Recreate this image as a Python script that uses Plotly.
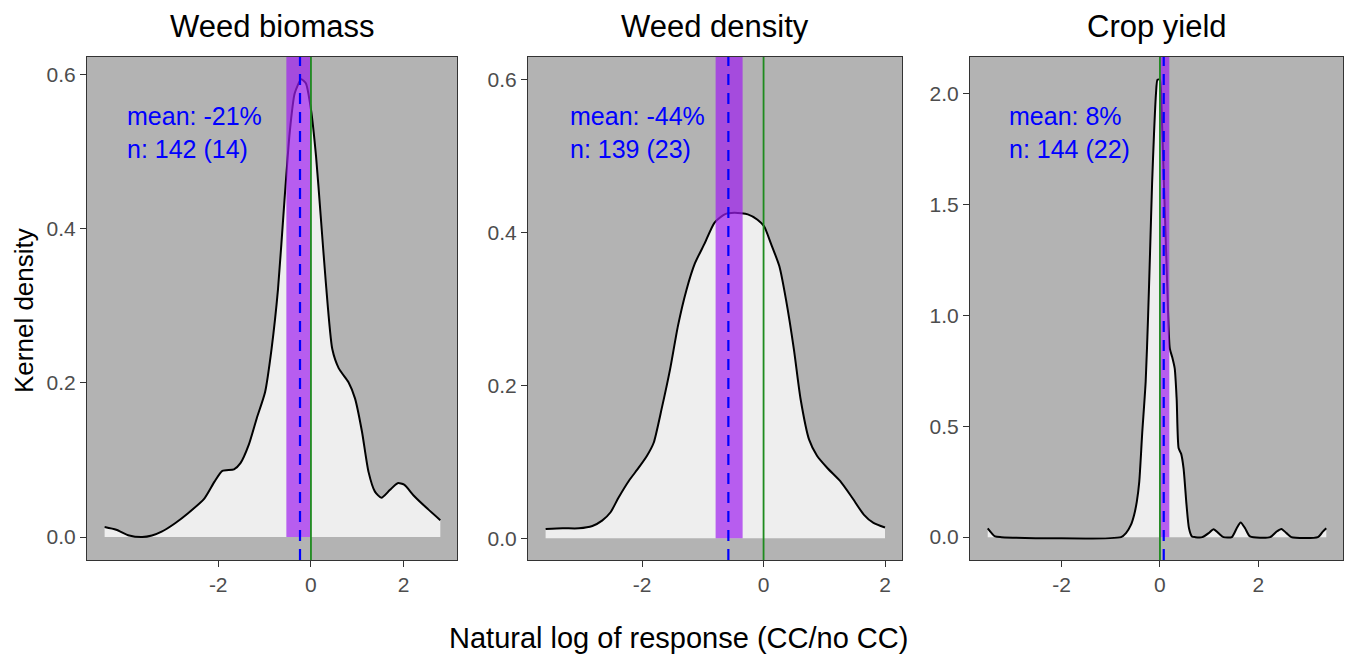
import plotly.graph_objects as go

# ---------------- data ----------------
panel_titles = ["Weed biomass", "Weed density", "Crop yield"]

biomass_x = [-4.45, -4.2, -3.92, -3.64, -3.43, -3.22, -2.93, -2.65, -2.3, -2.08, -1.91, -1.66, -1.52,
             -1.34, -1.17, -0.99, -0.85, -0.71, -0.57, -0.46, -0.35, -0.21, -0.11, 0.0, 0.11, 0.21,
             0.32, 0.46, 0.6, 0.81, 0.95, 1.1, 1.24, 1.38, 1.52, 1.7, 1.87, 2.01, 2.23, 2.51, 2.79]
biomass_y = [0.013, 0.0095, 0.002, 0.0, 0.002, 0.007, 0.018, 0.031, 0.05, 0.072, 0.086, 0.088, 0.096,
             0.12, 0.154, 0.188, 0.244, 0.322, 0.438, 0.524, 0.576, 0.594, 0.589, 0.555, 0.494, 0.417,
             0.331, 0.244, 0.219, 0.201, 0.18, 0.137, 0.085, 0.059, 0.051, 0.061, 0.07, 0.068, 0.053,
             0.037, 0.022]

density_x = [-3.59, -3.31, -3.04, -2.82, -2.66, -2.52, -2.39, -2.22, -2.06, -1.92, -1.81, -1.68, -1.54,
             -1.41, -1.27, -1.13, -0.97, -0.81, -0.64, -0.48, -0.26, -0.1, 0.01, 0.12, 0.26, 0.37, 0.5,
             0.61, 0.75, 0.88, 1.05, 1.26, 1.46, 1.65, 1.81, 2.0]
density_y = [0.012, 0.013, 0.013, 0.016, 0.023, 0.034, 0.053, 0.075, 0.092, 0.108, 0.125, 0.169, 0.221,
             0.278, 0.325, 0.36, 0.386, 0.413, 0.424, 0.426, 0.424, 0.417, 0.408, 0.386, 0.356, 0.312,
             0.247, 0.182, 0.129, 0.108, 0.092, 0.075, 0.053, 0.031, 0.02, 0.014]

yield_x = [-3.5, -3.35, -3.22, -0.79, -0.69, -0.59, -0.525, -0.47, -0.42, -0.36, -0.29, -0.24, -0.2,
           -0.16, -0.12, -0.08, -0.05, 0.0, 0.03, 0.08, 0.15, 0.2, 0.25, 0.3, 0.34, 0.38, 0.43, 0.48,
           0.54, 0.59, 0.65, 0.72, 0.86, 0.99, 1.09, 1.19, 1.29, 1.46, 1.56, 1.64, 1.73, 1.83, 2.24,
           2.37, 2.47, 2.57, 2.67, 3.21, 3.31, 3.38]
yield_y = [0.04, 0.003, 0.0, 0.0, 0.018, 0.055, 0.1, 0.16, 0.25, 0.47, 0.7, 1.0, 1.29,
           1.59, 1.82, 2.0, 2.06, 2.06, 1.95, 1.6, 1.12, 0.85, 0.81, 0.76, 0.62, 0.4, 0.376, 0.31,
           0.145, 0.04, 0.003, 0.0, 0.0, 0.018, 0.036, 0.018, 0.0, 0.0, 0.04, 0.066, 0.04, 0.003, 0.0,
           0.025, 0.037, 0.018, 0.0, 0.0, 0.025, 0.04]

mean_lnrr = [-0.236, -0.58, 0.077]
ci_low = [-0.53, -0.79, -0.01]
ci_high = [0.0, -0.345, 0.19]
labels_mean = ["mean: -21%", "mean: -44%", "mean: 8%"]
labels_n = ["n: 142 (14)", "n: 139 (23)", "n: 144 (22)"]

x_ranges = [[-4.83, 3.15], [-3.88, 2.28], [-3.86, 3.72]]
y_ranges = [[-0.0297, 0.623], [-0.0285, 0.630], [-0.103, 2.163]]
y_ticks = [[0.0, 0.2, 0.4, 0.6], [0.0, 0.2, 0.4, 0.6], [0.0, 0.5, 1.0, 1.5, 2.0]]
x_ticks = [-2, 0, 2]
label_x = [-4.0, -3.22, -3.1]

curves_x = [biomass_x, density_x, yield_x]
curves_y = [biomass_y, density_y, yield_y]

# ---------------- layout geometry ----------------
W, H = 1346, 654
x_domains = [[87 / W, 457 / W], [528 / W, 902 / W], [970 / W, 1343 / W]]
y_domain = [1 - 560 / H, 1 - 57 / H]

FONT = "Liberation Sans, Arial, Helvetica, sans-serif"
PANEL_BG = "#B3B3B3"
FILL = "#EEEEEE"
BAND = "rgba(160,32,240,0.70)"

fig = go.Figure()
shapes = []
annotations = []

for i in range(3):
    xa = "x" if i == 0 else f"x{i+1}"
    ya = "y" if i == 0 else f"y{i+1}"
    fig.add_trace(go.Scatter(
        x=curves_x[i], y=curves_y[i], mode="lines",
        line=dict(color="black", width=2, shape="spline", smoothing=0.6),
        fill="tozeroy", fillcolor=FILL,
        xaxis=xa, yaxis=ya, showlegend=False, hoverinfo="skip"))

    axis_common = dict(showgrid=False, zeroline=False, showline=True, mirror=True,
                       linecolor="#333333", linewidth=1.2, ticks="outside", ticklen=6,
                       tickwidth=1.2, tickcolor="#333333", automargin=False,
                       tickfont=dict(family=FONT, size=21, color="#4D4D4D"))
    fig.update_layout(**{
        ("xaxis" if i == 0 else f"xaxis{i+1}"): dict(
            domain=x_domains[i], range=x_ranges[i], tickvals=x_ticks,
            ticktext=[str(v) for v in x_ticks], anchor=ya, **axis_common),
        ("yaxis" if i == 0 else f"yaxis{i+1}"): dict(
            domain=y_domain, range=y_ranges[i], tickvals=y_ticks[i],
            tickformat=".1f", anchor=xa, **axis_common),
    })

    # CI band (ymin = 0, ymax = top of panel)
    shapes.append(dict(type="rect", xref=xa, yref=ya, x0=ci_low[i], x1=ci_high[i],
                       y0=0, y1=y_ranges[i][1], fillcolor=BAND, line=dict(width=0),
                       layer="above"))
    # zero line
    shapes.append(dict(type="line", xref=xa, yref=f"{ya} domain", x0=0, x1=0, y0=0, y1=1,
                       line=dict(color="#1E8B1E", width=1.8), layer="above"))
    # mean line
    shapes.append(dict(type="line", xref=xa, yref=f"{ya} domain", x0=mean_lnrr[i],
                       x1=mean_lnrr[i], y0=0, y1=1,
                       line=dict(color="#0000FF", width=2.2, dash="11px,8px"), layer="above"))

    # panel title
    annotations.append(dict(text=panel_titles[i], xref="paper", yref="paper",
                            x=(x_domains[i][0] + x_domains[i][1]) / 2, y=1 - 27 / H,
                            xanchor="center", yanchor="middle", showarrow=False,
                            font=dict(family=FONT, size=31, color="black")))
    # mean / n labels
    annotations.append(dict(text=labels_mean[i] + "<br>" + labels_n[i], xref=xa, yref="paper",
                            x=label_x[i], y=1 - 133 / H, xanchor="left", yanchor="middle",
                            align="left", showarrow=False,
                            font=dict(family=FONT, size=25, color="#0000FF")))

annotations.append(dict(text="Natural log of response (CC/no CC)", xref="paper", yref="paper",
                        x=678 / W, y=1 - 638 / H, xanchor="center", yanchor="middle",
                        showarrow=False, font=dict(family=FONT, size=29, color="black")))
annotations.append(dict(text="Kernel density", xref="paper", yref="paper",
                        x=24 / W, y=1 - 311 / H, xanchor="center", yanchor="middle",
                        textangle=-90, showarrow=False,
                        font=dict(family=FONT, size=26, color="black")))

fig.update_layout(width=W, height=H, margin=dict(l=0, r=0, t=0, b=0),
                  paper_bgcolor="white", plot_bgcolor=PANEL_BG,
                  shapes=shapes, annotations=annotations, showlegend=False)

fig.write_html("out.html")
